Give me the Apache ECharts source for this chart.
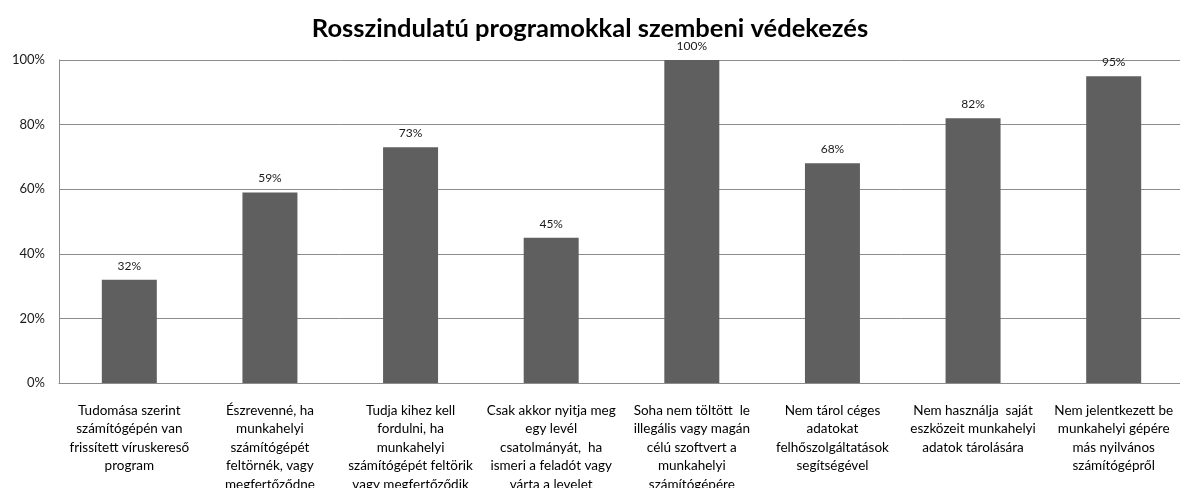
<!DOCTYPE html>
<html>
<head>
<meta charset="utf-8">
<script src="https://cdn.jsdelivr.net/npm/echarts@6/dist/echarts.min.js"></script>
<style>
  html, body { margin: 0; padding: 0; background: #fff; }
  #chart { width: 1180px; height: 488px; }
</style>
</head>
<body>
<div id="chart"></div>
<script>
// kategóriák (sortörésekkel, ahogy az eredetin)
var categories = [
  'Tudomása szerint\nszámítógépén van\nfrissített víruskereső\nprogram',
  'Észrevenné, ha\nmunkahelyi\nszámítógépét\nfeltörnék, vagy\nmegfertőződne',
  'Tudja kihez kell\nfordulni, ha\nmunkahelyi\nszámítógépét feltörik\nvagy megfertőződik',
  'Csak akkor nyitja meg\negy levél\ncsatolmányát,  ha\nismeri a feladót vagy\nvárta a levelet',
  'Soha nem töltött  le\nillegális vagy magán\ncélú szoftvert a\nmunkahelyi\nszámítógépére',
  'Nem tárol céges\nadatokat\nfelhőszolgáltatások\nsegítségével',
  'Nem használja  saját\neszközeit munkahelyi\nadatok tárolására',
  'Nem jelentkezett be\nmunkahelyi gépére\nmás nyilvános\nszámítógépről'
];
// értékek (%)
var values = [32, 59, 73, 45, 100, 68, 82, 95];
var yTicks = [0, 20, 40, 60, 80, 100];

var font = 'Lato, "Open Sans", sans-serif';

var myChart = echarts.init(document.getElementById('chart'));
myChart.setOption({
  animation: false,
  title: {
    text: 'Rosszindulatú programokkal szembeni védekezés',
    left: 'center',
    top: 11,
    textStyle: { fontFamily: font, fontSize: 25.5, fontWeight: 'bold', color: '#000' }
  },
  // a címkék lelógnak az aljáról, ezért nincs outerBounds
  grid: { left: 59, top: 60, width: 1125, height: 323, containLabel: false, outerBoundsMode: 'none' },
  xAxis: {
    type: 'category',
    data: categories,
    axisLine: { lineStyle: { color: '#8c8c8c', width: 1 } },
    axisTick: { show: false },
    axisLabel: {
      interval: 0,
      margin: 18,
      color: '#000',
      fontFamily: font,
      fontSize: 13.5,
      lineHeight: 18.5,
      align: 'center',
      verticalAlign: 'top'
    }
  },
  yAxis: {
    type: 'value',
    min: yTicks[0],
    max: yTicks[yTicks.length - 1],
    interval: 20,
    axisLine: { show: true, lineStyle: { color: '#8c8c8c', width: 1 } },
    axisTick: { show: false },
    splitLine: { lineStyle: { color: '#8c8c8c', width: 1 } },
    axisLabel: {
      formatter: '{value}%',
      color: '#1a1a1a',
      fontFamily: font,
      fontSize: 13,
      margin: 14
    }
  },
  series: [{
    type: 'bar',
    data: values,
    barWidth: 55,
    itemStyle: { color: '#5f5f5f' },
    label: {
      show: true,
      position: 'top',
      distance: 8,
      formatter: '{c}%',
      color: '#1a1a1a',
      fontFamily: font,
      fontSize: 12
    }
  }]
});
</script>
</body>
</html>
